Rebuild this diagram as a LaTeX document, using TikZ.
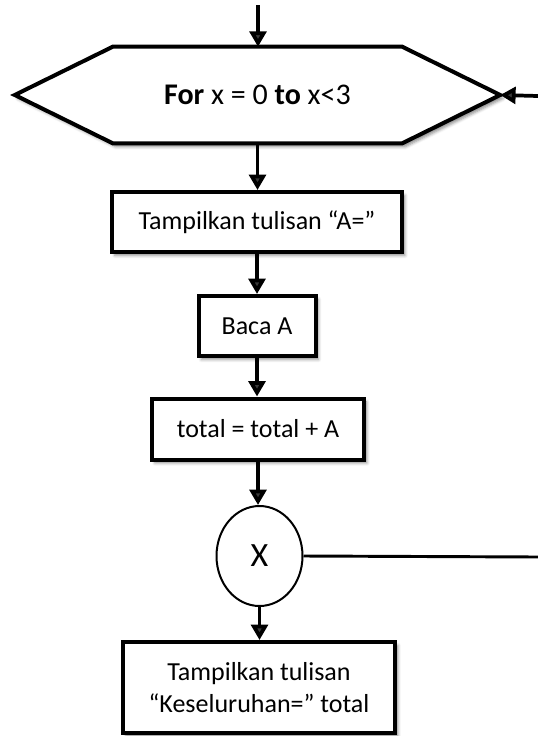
\documentclass[tikz,border=0pt]{standalone}
\usepackage{fontspec}
\setmainfont{Carlito}
\usetikzlibrary{arrows.meta,shapes.geometric,shadows.blur,calc}

% one drawing unit = one pixel of the 538 x 736 page
\def\unitpx{0.75pt}

\tikzset{
  softshadow/.style={blur shadow={shadow xshift=2.2pt, shadow yshift=-2.6pt,
      shadow blur radius=2.2pt, shadow opacity=45}},
  procbox/.style={draw, line width=3pt, fill=white, rectangle, inner sep=0pt,
      align=center, softshadow,
      font=\fontsize{19.5pt}{24pt}\selectfont},
  loopframe/.style={draw, line width=3pt, line join=miter, fill=white, softshadow},
  flow/.style={line width=2.8pt, -{Triangle[length=11.5pt,width=12.5pt]}},
  plain/.style={line width=2.2pt},
}

\begin{document}
\begin{tikzpicture}[x=\unitpx, y=-\unitpx]
  \useasboundingbox (0,0) rectangle (538,736);

  % loop header (hexagon) — text node sized to the hexagon's outline
  \node (loop) [rectangle, inner sep=0pt, minimum width=485*\unitpx,
      minimum height=96*\unitpx] at (257.5,95) {};
  \draw[loopframe] (loop.west) -- ($(loop.north west)+(98,0)$)
     -- ($(loop.north east)+(-98,0)$) -- (loop.east)
     -- ($(loop.south east)+(-98,0)$) -- ($(loop.south west)+(98,0)$) -- cycle;
  \node (looptext) at (loop.center)
     {\fontsize{22.5pt}{27pt}\selectfont\textbf{For} x = 0 \textbf{to} x<3};

  % process steps
  \node (ask)   [procbox, minimum width=290*\unitpx, minimum height=60*\unitpx]
      at (257,222) {Tampilkan tulisan “A=”};
  \node (read)  [procbox, minimum width=117*\unitpx, minimum height=60*\unitpx]
      at (257,326) {Baca A};
  \node (sum)   [procbox, minimum width=212*\unitpx, minimum height=61*\unitpx]
      at (258,429) {total = total + A};
  \node (cnt)   [ellipse, draw, line width=1.5pt, fill=white, inner sep=0pt,
      minimum width=86*\unitpx, minimum height=100*\unitpx,
      font=\fontsize{25.5pt}{30pt}\selectfont] at (259.5,556) {X};
  \node (show)  [procbox, minimum width=272*\unitpx, minimum height=91*\unitpx]
      at (259,687.5) {Tampilkan tulisan\\“Keseluruhan=” total};

  % free ends of the connectors
  \coordinate (entry) at (258,5);
  \coordinate (back)  at (538,96);
  \coordinate (out)   at (538,557);

  % connectors
  \draw[flow] (entry) -- (entry |- loop.north);
  \draw[flow] (back) -- (loop.east);
  \draw[flow] (loop.south) -- (loop.south |- ask.north);
  \draw[flow] (ask.south) -- (ask.south |- read.north);
  \draw[flow] (read.south) -- (read.south |- sum.north);
  \draw[flow] (sum.south) -- (sum.south |- cnt.north);
  \draw[flow] (cnt.south) -- (cnt.south |- show.north);
  \draw[plain] (cnt.east) -- (out);
\end{tikzpicture}
\end{document}
